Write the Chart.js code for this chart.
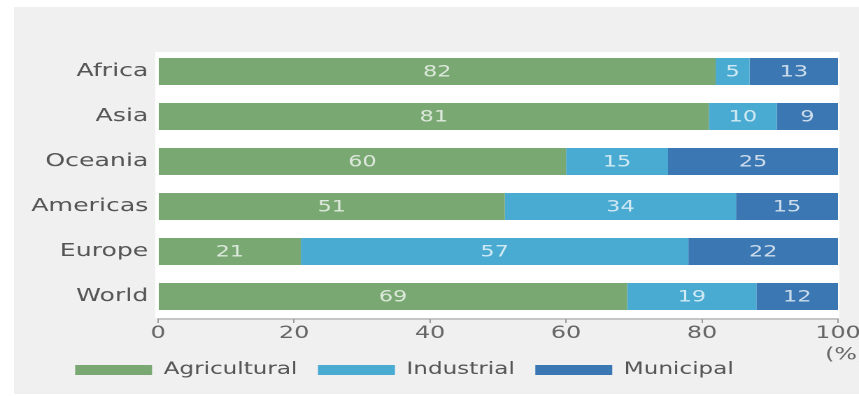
<!DOCTYPE html>
<html>
<head>
<meta charset="utf-8">
<script src="https://cdn.jsdelivr.net/npm/chart.js@4/dist/chart.umd.min.js"></script>
<style>
  html, body { margin: 0; padding: 0; background: #ffffff; overflow: hidden; }
  #wrap { position: absolute; left: 0; top: 0; width: 614px; height: 396px;
          transform: scaleX(1.39902); transform-origin: 0 0; }
</style>
</head>
<body>
<div id="wrap"><canvas id="c"></canvas></div>
<script>
const categories = ['Africa', 'Asia', 'Oceania', 'Americas', 'Europe', 'World'];
const agricultural = [82, 81, 60, 51, 21, 69];
const industrial = [5, 10, 15, 34, 57, 19];
const municipal = [13, 9, 25, 15, 22, 12];
const seriesNames = ['Agricultural', 'Industrial', 'Municipal'];
const xTicks = [0, 20, 40, 60, 80, 100];
const unitLabel = '(%)';

const FONT = "'DejaVu Sans', sans-serif";

const panelPlugin = {
  id: 'panel',
  afterLayout(chart) {
    Object.values(chart.scales).forEach(s => { s._computeLabelArea = () => undefined; });
  },
  beforeDraw(chart) {
    const ctx = chart.ctx;
    const a = chart.chartArea;
    ctx.save();
    ctx.fillStyle = '#f0f0f0';
    ctx.fillRect(10, 7, chart.width - 10, chart.height - 9);
    ctx.fillStyle = '#ffffff';
    ctx.fillRect(a.left - 2, a.top + 3, a.right - a.left + 3, a.bottom - a.top - 4);
    ctx.restore();
  }
};

const valueLabels = {
  id: 'valueLabels',
  afterDatasetsDraw(chart) {
    const ctx = chart.ctx;
    ctx.save();
    ctx.font = '16px ' + FONT;
    ctx.textAlign = 'center';
    ctx.textBaseline = 'middle';
    ctx.fillStyle = 'rgba(255,255,255,0.75)';
    chart.data.datasets.forEach((ds, i) => {
      const meta = chart.getDatasetMeta(i);
      meta.data.forEach((el, j) => {
        const cx = (el.x + el.base) / 2;
        ctx.fillText(String(ds.data[j]), cx, el.y + 1);
      });
    });
    ctx.restore();
  }
};

new Chart(document.getElementById('c'), {
  type: 'bar',
  data: {
    labels: categories,
    datasets: [
      { label: seriesNames[0], data: agricultural, backgroundColor: '#7aa873' },
      { label: seriesNames[1], data: industrial, backgroundColor: '#4aabd2' },
      { label: seriesNames[2], data: municipal, backgroundColor: '#3b77b3' }
    ]
  },
  options: {
    indexAxis: 'y',
    responsive: true,
    maintainAspectRatio: false,
    devicePixelRatio: 2,
    animation: false,
    datasets: { bar: { categoryPercentage: 1, barPercentage: 0.6, borderWidth: 0 } },
    layout: { padding: { left: 39, right: 15, top: 49, bottom: 7.8 } },
    plugins: {
      tooltip: { enabled: false },
      legend: {
        position: 'bottom',
        align: 'start',
        labels: {
          boxWidth: 55,
          boxHeight: 10,
          padding: 14.7,
          color: '#555555',
          font: { family: FONT, size: 16.5 }
        }
      }
    },
    scales: {
      x: {
        stacked: true,
        min: 0,
        max: 100,
        afterFit(s) { s.height = 28; s.paddingLeft = 0; s.paddingRight = 0; },
        afterBuildTicks(s) { s.ticks = xTicks.map(v => ({ value: v })); },
        grid: { drawOnChartArea: false, drawTicks: true, tickLength: 4, color: '#9a9a9a' },
        border: { display: true, color: '#9a9a9a', width: 1 },
        ticks: {
          padding: 0,
          color: '#666666',
          maxRotation: 0,
          font: { family: FONT, size: 17, lineHeight: 1.26 },
          callback(v) { return v === 100 ? ['100', '  ' + unitLabel] : String(v); }
        }
      },
      y: {
        stacked: true,
        afterFit(s) { s.width = 74; s.paddingTop = 0; s.paddingBottom = 0; },
        grid: { display: false, drawTicks: false },
        border: { display: false },
        ticks: {
          padding: 7,
          color: '#555555',
          font: { family: FONT, size: 18 }
        }
      }
    }
  },
  plugins: [panelPlugin, valueLabels]
});
</script>
</body>
</html>
